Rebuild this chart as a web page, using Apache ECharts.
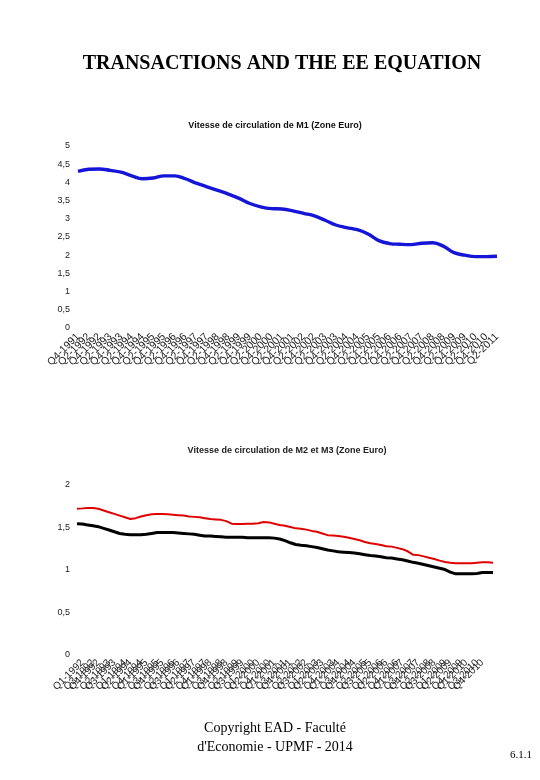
<!DOCTYPE html>
<html>
<head>
<meta charset="utf-8">
<script src="https://cdn.jsdelivr.net/npm/echarts@6/dist/echarts.min.js"></script>
<style>
html,body{margin:0;padding:0;background:#fff;}
#c{width:540px;height:780px;}
</style>
</head>
<body>
<div id="c"></div>
<script>
// Top chart: semiannual labels
var catsM1 = ["Q4-1991","Q2-1992","Q4-1992","Q2-1993","Q4-1993","Q2-1994","Q4-1994","Q2-1995","Q4-1995","Q2-1996","Q4-1996","Q2-1997","Q4-1997","Q2-1998","Q4-1998","Q2-1999","Q4-1999","Q2-2000","Q4-2000","Q2-2001","Q4-2001","Q2-2002","Q4-2002","Q2-2003","Q4-2003","Q2-2004","Q4-2004","Q2-2005","Q4-2005","Q2-2006","Q4-2006","Q2-2007","Q4-2007","Q2-2008","Q4-2008","Q2-2009","Q4-2009","Q2-2010","Q4-2010","Q2-2011"];
var velocityM1 = [4.30,4.36,4.37,4.33,4.28,4.18,4.10,4.12,4.18,4.18,4.10,3.98,3.88,3.78,3.68,3.56,3.42,3.33,3.28,3.27,3.22,3.15,3.08,2.96,2.83,2.76,2.70,2.58,2.40,2.32,2.30,2.29,2.33,2.34,2.25,2.07,2.00,1.96,1.96,1.97];

// Bottom chart: quarterly labels
var catsM23 = ["Q4-1991",
"Q1-1992","Q2-1992","Q3-1992","Q4-1992","Q1-1993","Q2-1993","Q3-1993","Q4-1993",
"Q1-1994","Q2-1994","Q3-1994","Q4-1994","Q1-1995","Q2-1995","Q3-1995","Q4-1995",
"Q1-1996","Q2-1996","Q3-1996","Q4-1996","Q1-1997","Q2-1997","Q3-1997","Q4-1997",
"Q1-1998","Q2-1998","Q3-1998","Q4-1998","Q1-1999","Q2-1999","Q3-1999","Q4-1999",
"Q1-2000","Q2-2000","Q3-2000","Q4-2000","Q1-2001","Q2-2001","Q3-2001","Q4-2001",
"Q1-2002","Q2-2002","Q3-2002","Q4-2002","Q1-2003","Q2-2003","Q3-2003","Q4-2003",
"Q1-2004","Q2-2004","Q3-2004","Q4-2004","Q1-2005","Q2-2005","Q3-2005","Q4-2005",
"Q1-2006","Q2-2006","Q3-2006","Q4-2006","Q1-2007","Q2-2007","Q3-2007","Q4-2007",
"Q1-2008","Q2-2008","Q3-2008","Q4-2008","Q1-2009","Q2-2009","Q3-2009","Q4-2009",
"Q1-2010","Q2-2010","Q3-2010","Q4-2010","Q1-2011","Q2-2011"];
var velocityM2 = [1.72,1.725,1.73,1.73,1.72,1.70,1.68,1.66,1.64,1.62,1.60,1.61,1.63,1.645,1.655,1.66,1.66,1.655,1.65,1.645,1.64,1.63,1.625,1.62,1.61,1.60,1.595,1.59,1.575,1.545,1.54,1.54,1.545,1.545,1.55,1.565,1.56,1.545,1.53,1.52,1.505,1.49,1.485,1.475,1.46,1.45,1.43,1.41,1.405,1.40,1.39,1.38,1.365,1.35,1.33,1.315,1.305,1.295,1.28,1.275,1.26,1.245,1.22,1.18,1.175,1.16,1.145,1.13,1.11,1.095,1.085,1.08,1.08,1.08,1.08,1.085,1.09,1.09,1.085];
var velocityM3 = [1.545,1.54,1.53,1.52,1.51,1.49,1.47,1.45,1.43,1.42,1.415,1.415,1.415,1.42,1.43,1.44,1.44,1.44,1.44,1.435,1.43,1.425,1.42,1.41,1.40,1.40,1.395,1.39,1.385,1.385,1.385,1.385,1.38,1.38,1.38,1.38,1.38,1.375,1.365,1.345,1.32,1.30,1.29,1.285,1.275,1.265,1.25,1.235,1.225,1.215,1.21,1.205,1.20,1.19,1.18,1.17,1.165,1.155,1.145,1.14,1.13,1.12,1.105,1.09,1.08,1.065,1.05,1.035,1.02,1.005,0.975,0.955,0.955,0.955,0.955,0.96,0.97,0.97,0.97];

var ticksM1 = {min:0, max:5, interval:0.5};
var ticksM23 = {min:0, max:2, interval:0.5};

var commaFmt = function(v){ return String(v).replace('.', ','); };
var sans = 'Liberation Sans, Arial, sans-serif';
var serif = 'Liberation Serif, Times New Roman, serif';

var chart = echarts.init(document.getElementById('c'), null, {renderer:'canvas'});
chart.setOption({
  backgroundColor:'#fff',
  animation:false,
  title:[
    {text:'TRANSACTIONS AND THE EE EQUATION', left:277, textAlign:'center', top:49,
     textStyle:{fontFamily:serif, fontSize:20, fontWeight:'bold', color:'#000'}},
    {text:'Vitesse de circulation de M1 (Zone Euro)', left:270, textAlign:'center', top:116,
     textStyle:{fontFamily:sans, fontSize:9, fontWeight:'bold', color:'#111'}},
    {text:'Vitesse de circulation de M2 et M3 (Zone Euro)', left:282, textAlign:'center', top:441,
     textStyle:{fontFamily:sans, fontSize:9, fontWeight:'bold', color:'#222'}},
    {text:"Copyright EAD - Faculté\nd'Economie - UPMF - 2014", left:270, textAlign:'center', top:714,
     textStyle:{fontFamily:serif, fontSize:14, fontWeight:'normal', color:'#000', lineHeight:19, align:'center'}},
    {text:'6.1.1', right:3, top:745,
     textStyle:{fontFamily:serif, fontSize:11, fontWeight:'normal', color:'#000'}}
  ],
  grid:[
    {left:78, right:43, top:146, height:182, containLabel:false},
    {left:77, right:47, top:485, height:170, containLabel:false}
  ],
  xAxis:[
    {type:'category', gridIndex:0, data:catsM1, boundaryGap:false,
     axisLine:{show:false}, axisTick:{show:false}, splitLine:{show:false},
     axisLabel:{interval:0, rotate:45, margin:7, fontFamily:sans, fontSize:10.5, color:'#222'}},
    {type:'category', gridIndex:1, data:catsM23, boundaryGap:false,
     axisLine:{show:false}, axisTick:{show:false}, splitLine:{show:false},
     axisLabel:{interval:function(i){ return i % 3 !== 2; }, rotate:45, margin:6, fontFamily:sans, fontSize:10, color:'#222'}}
  ],
  yAxis:[
    {type:'value', gridIndex:0, min:ticksM1.min, max:ticksM1.max, interval:ticksM1.interval,
     axisLine:{show:false}, axisTick:{show:false}, splitLine:{show:false},
     axisLabel:{formatter:commaFmt, margin:8, fontFamily:sans, fontSize:9, color:'#222'}},
    {type:'value', gridIndex:1, min:ticksM23.min, max:ticksM23.max, interval:ticksM23.interval,
     axisLine:{show:false}, axisTick:{show:false}, splitLine:{show:false},
     axisLabel:{formatter:commaFmt, margin:7, fontFamily:sans, fontSize:9, color:'#222'}}
  ],
  series:[
    {name:'M1', type:'line', xAxisIndex:0, yAxisIndex:0, data:velocityM1, smooth:0.4,
     symbol:'none', lineStyle:{color:'#1515d8', width:3.4}},
    {name:'M2', type:'line', xAxisIndex:1, yAxisIndex:1, data:velocityM2,
     symbol:'none', lineStyle:{color:'#e00000', width:2}},
    {name:'M3', type:'line', xAxisIndex:1, yAxisIndex:1, data:velocityM3,
     symbol:'none', lineStyle:{color:'#000', width:3}}
  ]
});
</script>
</body>
</html>
